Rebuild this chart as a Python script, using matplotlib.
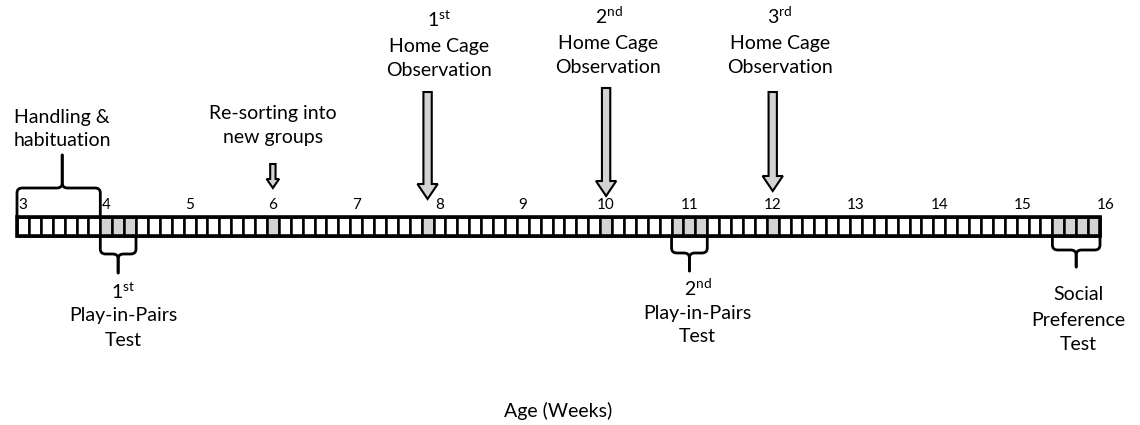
import matplotlib
matplotlib.use('Agg')
import matplotlib.pyplot as plt
from matplotlib.patches import Rectangle, FancyArrow, PathPatch
from matplotlib.path import Path

plt.rcParams['font.family'] = ['Lato', 'DejaVu Sans']
plt.rcParams['mathtext.fontset'] = 'custom'
plt.rcParams['mathtext.rm'] = 'Lato'

# timeline data (days counted from the start of week 3)
WEEKS = list(range(3, 17))
N_DAYS = (WEEKS[-1] - WEEKS[0]) * 7
GRAY_DAYS = [7, 8, 9, 21, 34, 49, 55, 56, 57, 63, 87, 88, 89, 90]

HABITUATION_SPAN = (0, 7)
HABITUATION_LABEL = ['Handling &', 'habituation']

RESORT_DAY = 21
RESORT_LABEL = ['Re-sorting into', 'new groups']

OBS_DAYS = [34, 49, 63]
OBS_ORDINALS = [r'1$^{\mathrm{st}}$', r'2$^{\mathrm{nd}}$', r'3$^{\mathrm{rd}}$']

TEST_SPANS = [(7, 10), (55, 58), (87, 91)]
TEST_LABELS = [
    [r'1$^{\mathrm{st}}$', 'Play-in-Pairs', 'Test'],
    [r'2$^{\mathrm{nd}}$', 'Play-in-Pairs', 'Test'],
    ['Social', 'Preference', 'Test'],
]

# layout (pixels, y grows downwards)
W, H = 1140, 425
X0, X1 = 17, 1100
PX_DAY = (X1 - X0) / N_DAYS
BAR_TOP, BAR_BOT = 217, 236
GRAY = '#d3d3d3'
FS = 14


def brace(ax, d0, d1, y_end, y_side, y_tip, xm=None):
    """Curly brace between days d0 and d1, sides start at y_end."""
    s = 1 if y_tip > y_end else -1
    rx, ry = 0.45, 5
    if xm is None:
        xm = (d0 + d1) / 2
    for xa, sg in ((d0, 1), (d1, -1)):
        verts = [(xa, y_end), (xa, y_side - s * ry), (xa, y_side),
                 (xa + sg * rx, y_side), (xm - sg * rx, y_side),
                 (xm, y_side), (xm, y_side + s * ry), (xm, y_tip)]
        codes = [Path.MOVETO, Path.LINETO, Path.CURVE3, Path.CURVE3,
                 Path.LINETO, Path.CURVE3, Path.CURVE3, Path.LINETO]
        ax.add_patch(PathPatch(Path(verts, codes), fill=False, lw=2.0,
                               ec='black', capstyle='round', joinstyle='round'))


def down_arrow(ax, day, y0, y1, width, head_width, head_length):
    ax.add_patch(FancyArrow(day, y0, 0, y1 - y0, width=width,
                            head_width=head_width, head_length=head_length,
                            length_includes_head=True, fc=GRAY, ec='black',
                            lw=1.5, zorder=3))


def label(ax, day, ys, lines, size=FS):
    for y, t in zip(ys, lines):
        ax.text(day, y, t, ha='center', va='center', fontsize=size)


fig = plt.figure(figsize=(W / 100, H / 100), dpi=100)
ax = fig.add_axes([0, 0, 1, 1])
ax.set_xlim(-X0 / PX_DAY, (W - X0) / PX_DAY)
ax.set_ylim(H, 0)
ax.axis('off')

# day cells
for d in range(N_DAYS):
    fc = GRAY if d in GRAY_DAYS else 'white'
    ax.add_patch(Rectangle((d, BAR_TOP), 1, BAR_BOT - BAR_TOP, fc=fc,
                           ec='black', lw=1.8))
ax.add_patch(Rectangle((0, BAR_TOP), N_DAYS, BAR_BOT - BAR_TOP, fill=False,
                       ec='black', lw=2.6, zorder=4))

# week numbers
for w in WEEKS:
    ax.text((w - WEEKS[0]) * 7 + 0.5, 205, str(w), ha='center', va='center',
            fontsize=11)

# handling & habituation
brace(ax, *HABITUATION_SPAN, BAR_TOP, 188, 155, xm=3.8)
label(ax, 3.8, [117, 141], HABITUATION_LABEL)

# re-sorting
down_arrow(ax, RESORT_DAY + 0.5, 164, 188, 0.45, 1.05, 9)
label(ax, RESORT_DAY + 0.5, [113, 137], RESORT_LABEL)

# home cage observations
obs_text_x = [35.5, 49.7, 64.1]
obs_text_y = [[20, 46, 70], [16, 43, 67], [16, 43, 67]]
obs_top = [92, 88, 92]
obs_tip = [199, 196, 191]
for d, tx, ty, y0, y1, o in zip(OBS_DAYS, obs_text_x, obs_text_y, obs_top,
                                obs_tip, OBS_ORDINALS):
    down_arrow(ax, d + 0.5, y0, y1, 0.7, 1.7, 15)
    label(ax, tx, ty, [o, 'Home Cage', 'Observation'])

# tests below the bar
test_side = [254, 253, 250]
test_tip = [273, 271, 267]
test_text_x = [8.9, 57.2, 89.2]
test_text_y = [[292, 316, 340], [288, 313, 337], [295, 320, 345]]
for (d0, d1), ys, yt, tx, ty, lines in zip(TEST_SPANS, test_side, test_tip,
                                           test_text_x, test_text_y, TEST_LABELS):
    brace(ax, d0, d1, BAR_BOT, ys, yt)
    label(ax, tx, ty, lines)

ax.text(N_DAYS / 2, 411, 'Age (Weeks)', ha='center', va='center', fontsize=FS)

fig.savefig('out.png', dpi=100)
